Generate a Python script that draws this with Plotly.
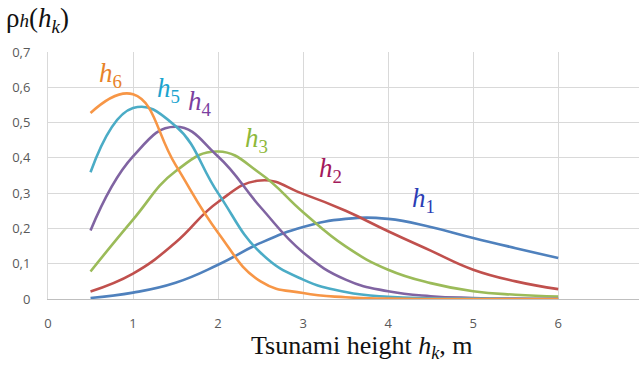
import plotly.graph_objects as go

x_vals = [0.5, 1, 1.5, 2, 2.5, 3, 3.5, 4, 4.5, 5, 5.5, 6]

h1 = [0.003, 0.018, 0.046, 0.097, 0.159, 0.204, 0.227, 0.227, 0.204, 0.173, 0.144, 0.116]
h2 = [0.0215, 0.072, 0.160, 0.275, 0.336, 0.298, 0.250, 0.192, 0.137, 0.083, 0.050, 0.028]
h3 = [0.078, 0.225, 0.362, 0.418, 0.355, 0.246, 0.149, 0.083, 0.045, 0.022, 0.012, 0.007]
h4 = [0.194, 0.404, 0.488, 0.404, 0.260, 0.132, 0.055, 0.022, 0.008, 0.003, 0.001, 0.0005]
h5 = [0.359, 0.541, 0.490, 0.300, 0.131, 0.055, 0.020, 0.006, 0.002, 0.001, 0.0, 0.0]
h6 = [0.527, 0.580, 0.380, 0.188, 0.050, 0.017, 0.005, 0.001, 0.0, 0.0, 0.0, 0.0]

series_names = ["h1", "h2", "h3", "h4", "h5", "h6"]
series_values = [h1, h2, h3, h4, h5, h6]
line_colors = ["#4F81BD", "#C0504D", "#9BBB59", "#8064A2", "#4BACC6", "#F79646"]
label_colors = ["#2B3DB5", "#A3195B", "#8DB83A", "#7B3FA0", "#1BA4CF", "#E8832A"]
label_pos = [(4.42, 0.28), (3.32, 0.366), (2.45, 0.451), (1.79, 0.556), (1.415, 0.593), (0.73, 0.635)]

y_ticks = [0, 0.1, 0.2, 0.3, 0.4, 0.5, 0.6, 0.7]
y_tick_text = ["0", "0,1", "0,2", "0,3", "0,4", "0,5", "0,6", "0,7"]
x_ticks = [0, 1, 2, 3, 4, 5, 6]

fig = go.Figure()
for name, vals, col in zip(series_names, series_values, line_colors):
    fig.add_trace(go.Scatter(x=x_vals, y=vals, mode="lines", name=name,
                             line=dict(color=col, width=2.6, shape="spline", smoothing=1.3)))

for i, (name, col, (lx, ly)) in enumerate(zip(series_names, label_colors, label_pos)):
    fig.add_annotation(x=lx, y=ly, xref="x", yref="y", showarrow=False,
                       text="<i>h</i><sub>%s</sub>" % name[1:],
                       font=dict(family="Liberation Serif", size=27, color=col))

fig.add_annotation(x=-0.075, y=1.13, xref="paper", yref="paper", showarrow=False,
                   xanchor="left", yanchor="middle",
                   text="ρ<span style='font-size:19px'><i>h</i></span>(<i>h<sub>k</sub></i>)",
                   font=dict(family="Liberation Serif", size=27, color="#111111"))

fig.add_annotation(x=0.531, y=-0.195, xref="paper", yref="paper", showarrow=False,
                   xanchor="center", yanchor="middle",
                   text="Tsunami height <i>h<sub>k</sub></i>, m",
                   font=dict(family="Liberation Serif", size=26, color="#111111"))

fig.update_layout(
    width=639, height=365,
    margin=dict(l=48, r=0, t=52, b=66),
    paper_bgcolor="white", plot_bgcolor="white",
    showlegend=False,
    xaxis=dict(range=[0, 6.95], tickvals=x_ticks, ticktext=[str(v) for v in x_ticks],
               showgrid=True, gridcolor="#D9D9D9", gridwidth=1,
               zeroline=False, showline=True, linecolor="#BFBFBF", linewidth=1,
               ticks="", ticklabelstandoff=12,
               tickfont=dict(family="Open Sans", size=13, color="#595959")),
    yaxis=dict(range=[0, 0.7], tickvals=y_ticks, ticktext=y_tick_text,
               showgrid=True, gridcolor="#D9D9D9", gridwidth=1,
               zeroline=False, showline=True, linecolor="#D9D9D9", linewidth=1,
               ticks="", ticklabelstandoff=14,
               tickfont=dict(family="Open Sans", size=13, color="#595959")),
)

fig.write_html("out.html", config={"displayModeBar": False},
               post_script="document.body.style.margin='0';")
